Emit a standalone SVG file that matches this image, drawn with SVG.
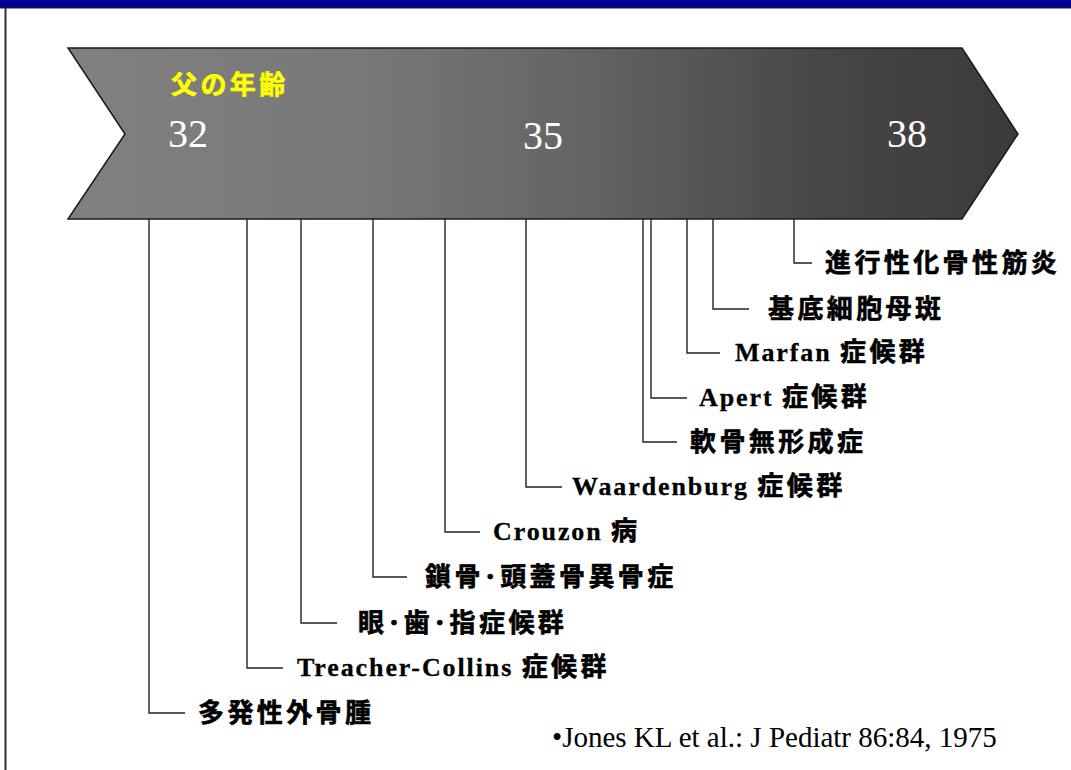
<svg xmlns="http://www.w3.org/2000/svg" width="1071" height="770" viewBox="0 0 1071 770">
<defs>
<linearGradient id="arrowGrad" x1="68" y1="0" x2="1018" y2="0" gradientUnits="userSpaceOnUse">
<stop offset="0" stop-color="#808080"/>
<stop offset="0.3" stop-color="#797979"/>
<stop offset="0.55" stop-color="#636363"/>
<stop offset="0.8" stop-color="#464646"/>
<stop offset="1" stop-color="#3a3a3a"/>
</linearGradient>
</defs>
<style>
.jp{font-family:"Noto Sans CJK JP","Noto Sans CJK SC",sans-serif;font-weight:700;font-size:26px;letter-spacing:3.4px;fill:#000;stroke:#000;stroke-width:0.6px}
.lat{font-family:"Liberation Serif","Times New Roman","DejaVu Serif",serif;font-weight:700;font-size:26px;letter-spacing:1.9px;fill:#000;stroke:#000;stroke-width:0.3px}
.num{font-family:"Liberation Serif","Times New Roman",serif;font-size:40px;fill:#fff}
.title{font-family:"Noto Sans CJK JP","Noto Sans CJK SC",sans-serif;font-weight:700;font-size:26px;letter-spacing:3.4px;fill:#ffff00;stroke:#ffff00;stroke-width:0.6px}
.cite{font-family:"Liberation Serif","Times New Roman",serif;font-size:29px;fill:#000}
.conn{fill:none;stroke:#222;stroke-width:1.4}
</style>
<rect x="0" y="0" width="1071" height="770" fill="#fff"/>
<rect x="0" y="0" width="1071" height="8" fill="#000099"/>
<line x1="0" y1="8" x2="1071" y2="8" stroke="#222" stroke-width="1"/>
<line x1="5.5" y1="8" x2="5.5" y2="770" stroke="#333" stroke-width="2"/>

<g id="timeline">
<polygon points="68,48 962,48 1018,134 962,219 68,219 125,134" fill="url(#arrowGrad)" stroke="#1a1a1a" stroke-width="1.5"/>
<text class="title" x="171" y="94">父の年齢</text>
<text class="num" x="168" y="147">32</text>
<text class="num" x="523" y="149">35</text>
<text class="num" x="887" y="147">38</text>
</g>

<g id="connectors">
<polyline class="conn" points="794,219 794,263 812,263"/>
<polyline class="conn" points="713,219 713,309 749,309"/>
<polyline class="conn" points="687,219 687,353 720,353"/>
<polyline class="conn" points="651,219 651,398 687,398"/>
<polyline class="conn" points="643,219 643,442 677,442"/>
<polyline class="conn" points="526,219 526,487 562,487"/>
<polyline class="conn" points="445,219 445,532 480,532"/>
<polyline class="conn" points="373,219 373,577 407,577"/>
<polyline class="conn" points="301,219 301,623 337,623"/>
<polyline class="conn" points="247,219 247,668 283,668"/>
<polyline class="conn" points="149,219 149,713 185,713"/>
</g>

<g id="n1"><text class="jp" x="825" y="272">進行性化骨性筋炎</text></g>
<g id="n2"><text class="jp" x="768" y="318">基底細胞母斑</text></g>
<g id="n3"><text class="lat" x="735" y="361">Marfan <tspan class="jp">症候群</tspan></text></g>
<g id="n4"><text class="lat" x="699" y="406">Apert <tspan class="jp">症候群</tspan></text></g>
<g id="n5"><text class="jp" x="690" y="451">軟骨無形成症</text></g>
<g id="n6"><text class="lat" x="572" y="495">Waardenburg <tspan class="jp">症候群</tspan></text></g>
<g id="n7"><text class="lat" x="493" y="540">Crouzon <tspan class="jp">病</tspan></text></g>
<g id="n8"><text class="jp" x="425" y="586">鎖骨･頭蓋骨異骨症</text></g>
<g id="n9"><text class="jp" x="358" y="632">眼･歯･指症候群</text></g>
<g id="n10"><text class="lat" x="297" y="676">Treacher-Collins <tspan class="jp">症候群</tspan></text></g>
<g id="n11"><text class="jp" x="198" y="722">多発性外骨腫</text></g>

<g id="citation"><text class="cite" x="552" y="747">•Jones KL et al.: J Pediatr 86:84, 1975</text></g>
</svg>
